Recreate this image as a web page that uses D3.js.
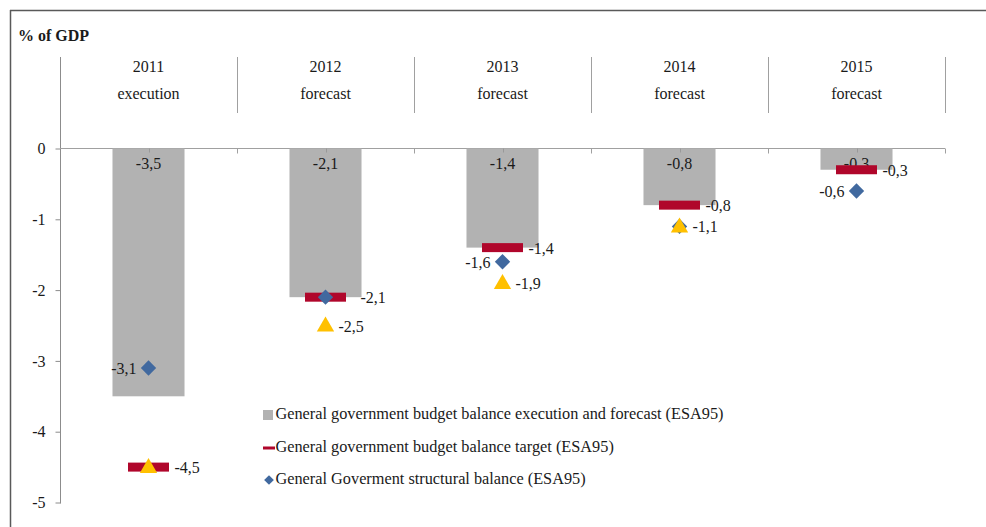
<!DOCTYPE html>
<html>
<head>
<meta charset="utf-8">
<script src="https://cdn.jsdelivr.net/npm/d3@7"></script>
<style>
  html, body { margin: 0; padding: 0; background: #fff; }
  svg text { font-family: "Liberation Serif", "Times New Roman", "DejaVu Serif", serif; }
</style>
</head>
<body>
<svg id="chart" width="986" height="527"></svg>
<script>
// ---- data (% of GDP) ----
const years       = ["2011", "2012", "2013", "2014", "2015"];
const phases      = ["execution", "forecast", "forecast", "forecast", "forecast"];
const balance     = [-3.5, -2.1, -1.4, -0.8, -0.3];   // execution and forecast
const target      = [-4.5, -2.1, -1.4, -0.8, -0.3];   // budget balance target
const structural  = [-3.1, -2.1, -1.6, -1.1, -0.6];   // structural balance
const priorTarget = [-4.5, -2.5, -1.9, -1.1, null];   // earlier target path (no legend entry)
const yTicks      = [0, -1, -2, -3, -4, -5];
const legendNames = [
  "General government budget balance execution and forecast (ESA95)",
  "General government budget balance target (ESA95)",
  "General Goverment structural balance (ESA95)"
];

// which side each point label sits on (null = no label)
const targetLabelSide     = ["right", null, "right", "right", "right"];
const structuralLabelSide = ["left", "right", "left", null, "left"];
const priorLabelSide      = [null, "right", "right", "right", null];

const FONT = "Liberation Serif";
const COL = { bar: "#b2b2b2", target: "#b0062b", diamond: "#41699f", tri: "#ffc000",
              axis: "#a0a0a0", yaxis: "#8c8c8c", frame: "#595959", text: "#1a1a1a" };
const fmt = v => String(v).replace(".", ",");

const svg = d3.select("#chart");

function label(sel, size = 16) {
  return sel.attr("font-family", FONT).attr("font-size", size).attr("fill", COL.text);
}

// outer frame (top and left edges)
svg.append("line").attr("x1", 10).attr("x2", 986).attr("y1", 10.5).attr("y2", 10.5)
  .attr("stroke", COL.frame).attr("stroke-width", 1.5);
svg.append("line").attr("x1", 10.5).attr("x2", 10.5).attr("y1", 10).attr("y2", 527)
  .attr("stroke", COL.frame).attr("stroke-width", 1.5);

const x = d3.scaleBand().domain(years).range([60, 945]).paddingInner(0).paddingOuter(0);
const y = d3.scaleLinear().domain([-5, 0]).range([502.5, 148.5]);
const bw = x.bandwidth();
const barW = bw * 0.407;
const dashW = 41, dashH = 9;
const cx = i => x(years[i]) + bw / 2;

// axis title
label(svg.append("text")).attr("x", 18).attr("y", 41).attr("font-weight", "bold").text("% of GDP");

// y axis
const yAxis = svg.append("g").attr("transform", "translate(60.5,0)")
  .call(d3.axisLeft(y).tickValues(yTicks).tickSize(5).tickFormat(d => fmt(d)));
yAxis.attr("font-family", FONT);
yAxis.select(".domain").remove();
yAxis.selectAll(".tick line").attr("stroke", COL.yaxis);
label(yAxis.selectAll(".tick text")).attr("dx", -7);
svg.append("line").attr("x1", 60.5).attr("x2", 60.5).attr("y1", 57).attr("y2", y(-5) + 1)
  .attr("stroke", COL.yaxis);

// zero line with category ticks
svg.append("line").attr("x1", 60).attr("x2", x.range()[1]).attr("y1", y(0)).attr("y2", y(0))
  .attr("stroke", COL.axis);
const bounds = years.map(d => x(d)).concat([x.range()[1]]);
svg.selectAll(".ztick").data(bounds.slice(1)).join("line")
  .attr("x1", d => Math.round(d) + 0.5).attr("x2", d => Math.round(d) + 0.5)
  .attr("y1", y(0)).attr("y2", y(0) + 5).attr("stroke", COL.axis);

// header separators and category labels
svg.selectAll(".sep").data(bounds.slice(1)).join("line")
  .attr("x1", d => Math.round(d) + 0.5).attr("x2", d => Math.round(d) + 0.5)
  .attr("y1", 57).attr("y2", 113).attr("stroke", COL.axis);
const head = svg.selectAll(".head").data(years).join("g")
  .attr("transform", d => `translate(${x(d) + bw / 2},0)`);
label(head.append("text")).attr("y", 72).attr("text-anchor", "middle").text(d => d);
label(head.append("text")).attr("y", 99).attr("text-anchor", "middle").text((d, i) => phases[i]);

// bars
svg.selectAll(".bar").data(balance).join("rect")
  .attr("x", (d, i) => cx(i) - barW / 2).attr("y", y(0))
  .attr("width", barW).attr("height", d => y(d) - y(0)).attr("fill", COL.bar);
// small centre ticks on the zero line, over the bars
svg.selectAll(".ctick").data(years).join("line")
  .attr("x1", (d, i) => Math.round(cx(i)) + 0.5).attr("x2", (d, i) => Math.round(cx(i)) + 0.5)
  .attr("y1", y(0)).attr("y2", y(0) + 4).attr("stroke", "#999");
label(svg.selectAll(".barlab").data(balance).join("text"))
  .attr("x", (d, i) => cx(i)).attr("y", y(0) + 20.5).attr("text-anchor", "middle").text(d => fmt(d));

// target dashes
svg.selectAll(".tgt").data(target).join("rect")
  .attr("x", (d, i) => cx(i) - dashW / 2).attr("y", d => y(d) - dashH / 2)
  .attr("width", dashW).attr("height", dashH).attr("fill", COL.target);

// structural balance diamonds
const diamond = d3.symbol().type(d3.symbolDiamond2).size(150);
svg.selectAll(".dia").data(structural).join("path")
  .attr("d", diamond).attr("transform", (d, i) => `translate(${cx(i)},${y(d)})`)
  .attr("fill", COL.diamond);

// earlier target triangles
const tri = d3.symbol().type(d3.symbolTriangle).size(130);
svg.selectAll(".tri").data(priorTarget.map((v, i) => ({ v, i })).filter(d => d.v !== null)).join("path")
  .attr("d", tri).attr("transform", d => `translate(${cx(d.i)},${y(d.v) + 1})`)
  .attr("fill", COL.tri);

// point labels
function pointLabels(values, sides, rightOff, leftOff) {
  values.forEach((v, i) => {
    const side = sides[i];
    if (v === null || !side) return;
    label(svg.append("text"))
      .attr("x", side === "right" ? cx(i) + rightOff : cx(i) - leftOff)
      .attr("y", y(v) + 6)
      .attr("text-anchor", side === "right" ? "start" : "end")
      .text(fmt(v));
  });
}
pointLabels(target, targetLabelSide, 26, 26);
pointLabels(structural, structuralLabelSide, 35, 12);
pointLabels(priorTarget, priorLabelSide, 13, 13);

// legend
const lg = svg.append("g").attr("transform", "translate(262,0)");
const rows = [419, 452, 484];
lg.append("rect").attr("x", 1).attr("y", rows[0] - 9).attr("width", 10).attr("height", 10).attr("fill", COL.bar);
lg.append("rect").attr("x", 1).attr("y", rows[1] - 5.5).attr("width", 12).attr("height", 3).attr("fill", COL.target);
lg.append("path").attr("d", d3.symbol().type(d3.symbolDiamond2).size(60))
  .attr("transform", `translate(7,${rows[2] - 4})`).attr("fill", COL.diamond);
label(lg.selectAll(".lt").data(legendNames).join("text"), 16.3)
  .attr("x", 13.5).attr("y", (d, i) => rows[i]).text(d => d);
</script>
</body>
</html>
